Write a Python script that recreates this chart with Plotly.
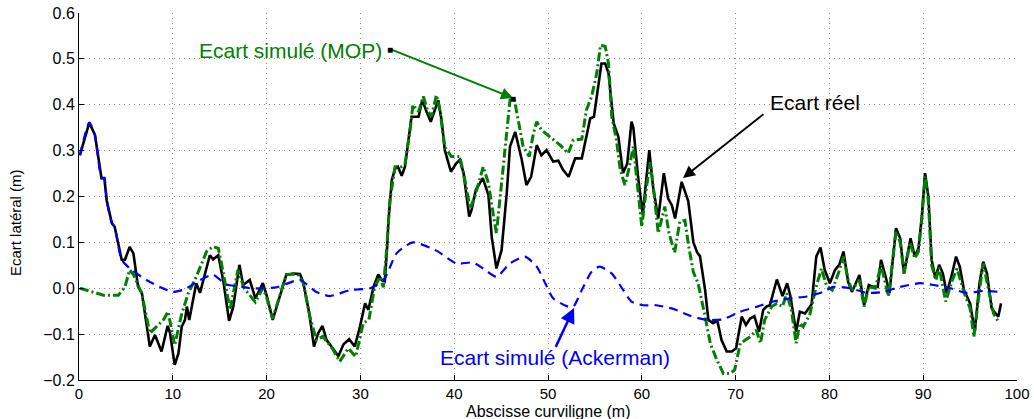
import plotly.graph_objects as go

# Ecart réel (courbe noire)
x_reel = [0.1, 1.1, 1.7, 2.4, 2.7, 2.95, 3.5, 3.8, 4.55, 4.9, 5.4, 5.8, 6.3, 6.7, 7.55, 8.1, 8.8, 9.45, 9.7,
          10.2, 10.6, 10.95, 11.3, 11.5, 11.75, 12.5, 12.9, 13.4, 13.95, 14.3, 14.85, 15.4, 16.0, 16.45, 17.1,
          17.5, 18.2, 18.8, 19.6, 20.0, 20.65, 21.4, 22.1, 22.85, 23.55, 23.9, 24.55, 25.05, 25.5, 25.95, 26.4,
          27.05, 27.65, 28.2, 28.8, 29.4, 29.95, 30.5, 30.85, 31.4, 31.9, 32.3, 32.6, 32.85, 33.0, 33.35, 33.7,
          34.0, 34.4, 34.75, 35.2, 35.45, 36.2, 36.6, 37.05, 37.5, 38.3, 38.65, 39.0, 39.65, 40.2, 40.6, 41.0,
          41.6, 41.85, 42.3, 43.05, 43.65, 44.0, 44.5, 45.05, 45.6, 45.95, 46.5, 47.2, 47.7, 48.2, 48.8, 49.3,
          49.85, 50.55, 51.1, 51.6, 52.2, 52.9, 53.6, 54.5, 54.9, 55.25, 55.7, 56.1, 56.45, 57.0, 57.5, 58.0,
          58.45, 58.9, 59.1, 59.6, 60.1, 60.5, 60.8, 61.2, 61.75, 62.35, 62.8, 63.2, 63.55, 64.25, 64.95, 65.5,
          65.9, 66.2, 66.75, 67.1, 67.6, 68.05, 68.5, 69.05, 69.6, 70.05, 70.65, 71.1, 71.55, 72.0, 72.5, 72.95,
          73.3, 73.65, 74.0, 74.4, 75.0, 75.5, 75.85, 76.45, 76.85, 77.4, 78.1, 78.6, 79.05, 79.5, 80.05, 80.6,
          81.05, 81.5, 82.0, 82.4, 83.2, 83.7, 84.2, 84.7, 85.15, 85.5, 86.0, 86.4, 87.1, 87.55, 87.95, 88.65,
          89.1, 89.5, 89.85, 90.2, 90.55, 90.9, 91.3, 91.7, 92.1, 92.5, 93.05, 93.5, 93.9, 94.35, 95.0, 95.5,
          96.0, 96.4, 96.8, 97.3, 98.0, 98.3]
y_reel = [0.29, 0.361, 0.334, 0.24, 0.24, 0.192, 0.142, 0.134, 0.062, 0.062, 0.09, 0.076, 0.003, -0.01, -0.127,
          -0.102, -0.138, -0.082, -0.097, -0.167, -0.142, -0.084, -0.069, -0.04, -0.069, 0.011, -0.01, 0.032,
          0.072, 0.063, 0.072, 0.014, -0.071, -0.04, 0.051, 0.007, 0.018, -0.022, 0.011, -0.015, -0.069, -0.018,
          0.029, 0.032, 0.031, 0.014, -0.055, -0.127, -0.098, -0.082, -0.113, -0.131, -0.148, -0.122, -0.111,
          -0.127, -0.084, -0.033, -0.047, 0.003, 0.03, 0.017, 0.015, 0.09, 0.15, 0.236, 0.261, 0.265, 0.245,
          0.265, 0.33, 0.374, 0.374, 0.41, 0.385, 0.363, 0.41, 0.367, 0.301, 0.254, 0.272, 0.28, 0.251, 0.156,
          0.171, 0.214, 0.24, 0.203, 0.112, 0.043, 0.083, 0.207, 0.309, 0.341, 0.28, 0.225, 0.243, 0.312, 0.29,
          0.301, 0.276, 0.278, 0.258, 0.243, 0.283, 0.283, 0.37, 0.374, 0.425, 0.49, 0.49, 0.469, 0.36, 0.33,
          0.251, 0.272, 0.363, 0.35, 0.243, 0.16, 0.243, 0.301, 0.221, 0.152, 0.251, 0.196, 0.181, 0.152, 0.232,
          0.19, 0.1, 0.078, 0.07, -0.004, -0.069, -0.076, -0.071, -0.113, -0.138, -0.138, -0.131, -0.062, -0.08,
          -0.066, -0.061, -0.095, -0.047, -0.04, -0.037, -0.008, 0.019, -0.017, 0.011, -0.018, -0.095, -0.051,
          -0.055, -0.035, 0.069, 0.089, 0.04, 0.011, 0.04, 0.051, 0.08, 0.014, -0.008, 0.029, -0.037, 0.007,
          0.003, 0.003, 0.062, 0.025, -0.011, 0.131, 0.109, 0.032, 0.109, 0.069, 0.087, 0.156, 0.251, 0.2, 0.062,
          0.022, 0.051, 0.032, -0.011, 0.029, 0.069, 0.047, -0.004, -0.033, -0.095, 0.011, 0.058, 0.032, -0.044,
          -0.062, -0.033]

# Ecart simulé (MOP) (courbe verte)
x_mop = [0.1, 1.5, 2.6, 4.2, 4.9, 5.4, 5.8, 6.7, 7.55, 8.1, 9.0, 9.5, 10.2, 10.95, 11.65, 12.5, 13.6, 14.3,
         14.85, 15.4, 16.1, 16.95, 17.6, 18.8, 19.6, 20.0, 20.65, 22.1, 23.3, 23.9, 24.6, 25.3, 26.0, 27.0,
         27.8, 28.7, 29.5, 30.3, 30.9, 31.5, 32.05, 32.45, 32.8, 33.15, 33.7, 34.4, 34.75, 35.3, 35.6, 36.2,
         36.7, 37.2, 37.6, 38.1, 38.5, 39.0, 39.7, 40.6, 41.1, 41.7, 42.2, 43.1, 43.65, 44.15, 44.5, 45.05,
         45.6, 45.95, 46.4, 46.8, 47.35, 48.0, 48.45, 48.8, 49.3, 50.2, 51.3, 52.15, 52.7, 53.6, 54.1, 54.65,
         55.2, 55.6, 56.1, 56.45, 56.8, 57.3, 57.7, 58.2, 58.6, 59.1, 59.4, 60.0, 60.5, 60.9, 61.4, 61.75,
         62.45, 62.9, 63.5, 64.05, 64.6, 65.0, 65.5, 66.0, 66.75, 67.3, 68.0, 68.7, 69.4, 69.9, 70.5, 71.0,
         71.6, 72.2, 72.65, 73.1, 73.85, 74.4, 75.0, 75.45, 75.95, 76.45, 76.85, 77.2, 77.9, 78.5, 79.15,
         79.7, 80.3, 80.95, 81.5, 82.0, 82.4, 83.2, 83.7, 84.2, 84.9, 85.5, 86.3, 87.1, 87.55, 87.95, 88.6,
         89.1, 89.5, 89.85, 90.2, 90.55, 90.9, 91.35, 91.7, 92.4, 93.05, 93.6, 94.45, 95.0, 95.4, 96.05, 96.4,
         96.9, 97.5, 98.1]
y_mop = [0.0, -0.008, -0.015, -0.015, 0.003, 0.04, 0.03, -0.012, -0.098, -0.087, -0.069, -0.051, -0.124,
         -0.056, -0.011, 0.025, 0.08, 0.091, 0.087, 0.032, -0.047, 0.04, 0.0, -0.03, 0.0, -0.02, -0.066, 0.03,
         0.031, 0.012, -0.06, -0.113, -0.105, -0.131, -0.16, -0.131, -0.149, -0.076, -0.069, 0.0, 0.025, 0.002,
         0.085, 0.192, 0.265, 0.265, 0.27, 0.345, 0.4, 0.385, 0.418, 0.385, 0.375, 0.421, 0.385, 0.308, 0.287,
         0.287, 0.24, 0.174, 0.2, 0.265, 0.229, 0.163, 0.12, 0.229, 0.345, 0.41, 0.413, 0.367, 0.309, 0.287,
         0.338, 0.363, 0.345, 0.33, 0.312, 0.294, 0.323, 0.325, 0.389, 0.418, 0.469, 0.53, 0.527, 0.49, 0.374,
         0.323, 0.258, 0.225, 0.258, 0.309, 0.25, 0.134, 0.221, 0.275, 0.19, 0.12, 0.178, 0.12, 0.078, 0.145,
         0.148, 0.091, 0.035, 0.011, -0.062, -0.12, -0.156, -0.186, -0.186, -0.178, -0.12, -0.113, -0.105,
         -0.091, -0.12, -0.069, -0.04, -0.033, -0.04, -0.011, -0.047, -0.12, -0.076, -0.084, -0.058, -0.004,
         0.043, 0.005, -0.004, 0.032, 0.069, 0.018, -0.004, 0.018, -0.04, 0.003, 0.0, 0.051, -0.018, 0.124,
         0.1, 0.032, 0.1, 0.065, 0.08, 0.15, 0.244, 0.19, 0.05, 0.018, 0.045, -0.029, 0.015, 0.043, -0.015,
         -0.044, -0.106, 0.003, 0.054, 0.003, -0.055, -0.076]

# Ecart simulé (Ackerman) (courbe bleue)
x_ack = [0.1, 1.1, 1.7, 2.4, 2.7, 2.95, 3.5, 3.8, 4.55, 5.6, 7.2, 8.6, 10.05, 11.3, 12.9, 14.3, 15.75, 17.5,
         18.2, 21.05, 23.55, 25.3, 26.75, 28.9, 31.05, 32.5, 33.85, 35.6, 38.1, 40.25, 42.0, 43.1, 44.5, 45.95,
         47.55, 48.8, 49.7, 50.55, 52.0, 52.7, 53.6, 54.65, 55.5, 56.8, 57.8, 58.9, 60.15, 61.55, 63.35, 65.15,
         66.9, 68.6, 70.5, 72.3, 74.0, 75.8, 77.6, 79.35, 80.4, 82.2, 84.0, 85.75, 87.55, 89.65, 91.1, 92.9,
         94.6, 96.4, 98.2]
y_ack = [0.29, 0.361, 0.334, 0.24, 0.24, 0.192, 0.142, 0.134, 0.062, 0.04, 0.018, 0.003, -0.008, -0.002, 0.018,
         0.029, 0.008, 0.003, 0.0, 0.002, 0.018, -0.008, -0.017, -0.004, 0.0, 0.018, 0.076, 0.1, 0.082, 0.054,
         0.056, 0.043, 0.025, 0.054, 0.069, 0.047, 0.011, -0.022, -0.039, -0.04, -0.004, 0.036, 0.047, 0.032,
         0.003, -0.029, -0.037, -0.037, -0.045, -0.06, -0.069, -0.068, -0.051, -0.04, -0.029, -0.022, -0.018,
         -0.008, 0.003, 0.0, -0.01, -0.008, 0.003, 0.011, 0.007, 0.0, -0.01, -0.006, -0.008]

x_ticks = list(range(0, 101, 10))
y_ticks = [-0.2, -0.1, 0, 0.1, 0.2, 0.3, 0.4, 0.5, 0.6]

GREEN = "#008000"
BLUE = "#0000ff"
FONT = "Liberation Sans, Arial, sans-serif"

fig = go.Figure()
fig.add_trace(go.Scatter(x=x_reel, y=y_reel, mode="lines", name="Ecart réel",
                         line=dict(color="black", width=2.6)))
fig.add_trace(go.Scatter(x=x_mop, y=y_mop, mode="lines", name="Ecart simulé (MOP)",
                         line=dict(color=GREEN, width=3, dash="9px,3px,2px,3px")))
fig.add_trace(go.Scatter(x=x_ack, y=y_ack, mode="lines", name="Ecart simulé (Ackerman)",
                         line=dict(color=BLUE, width=2.2, dash="9px,6px", shape="spline", smoothing=0.6)))

axis_common = dict(
    showgrid=True, gridcolor="#8c8c8c", griddash="1px,4px", gridwidth=1,
    showline=True, linecolor="black", linewidth=1,
    ticks="inside", ticklen=5, tickcolor="black",
    zeroline=False, automargin=False, ticklabeloverflow="allow",
)
fig.update_xaxes(range=[0, 100], tickvals=x_ticks, tickfont=dict(size=15, color="black", family=FONT),
                 **axis_common)
fig.update_yaxes(range=[-0.2, 0.6], tickvals=y_ticks, tickformat=".1f",
                 tickfont=dict(size=16, color="black", family=FONT), **axis_common)

# Titres des axes
fig.add_annotation(xref="paper", yref="paper", x=0.5, y=-0.0845, xanchor="center", yanchor="middle",
                   text="Abscisse curviligne (m)", showarrow=False,
                   font=dict(size=16, family=FONT, color="black"))
fig.add_annotation(xref="paper", yref="paper", x=-0.067, y=0.428, xanchor="center", yanchor="middle",
                   text="Ecart latéral (m)", textangle=-90, showarrow=False,
                   font=dict(size=15, family=FONT, color="black"))

# Annotations: textes et flèches
fig.add_annotation(x=22.5, y=0.519, text="Ecart simulé (MOP)", showarrow=False,
                   font=dict(size=21, color=GREEN, family=FONT))
fig.add_annotation(x=46.27, y=0.4147, ax=33.16, ay=0.5215, axref="x", ayref="y", text="",
                   showarrow=True, arrowhead=2, arrowsize=1.2, arrowwidth=2, arrowcolor=GREEN)
for px, py in [(33.16, 0.5215), (46.27, 0.4147)]:
    fig.add_annotation(x=px, y=py, text="■", showarrow=False, font=dict(size=10, color="black"))

fig.add_annotation(x=78.5, y=0.404, text="Ecart réel", showarrow=False,
                   font=dict(size=21, color="black", family=FONT))
fig.add_annotation(x=64.39, y=0.2403, ax=73.13, ay=0.382, axref="x", ayref="y", text="",
                   showarrow=True, arrowhead=2, arrowsize=1.2, arrowwidth=2, arrowcolor="black")

fig.add_annotation(x=50.75, y=-0.152, text="Ecart simulé (Ackerman)", showarrow=False,
                   font=dict(size=21, color=BLUE, family=FONT))
fig.add_annotation(x=52.77, y=-0.043, ax=50.75, ay=-0.131, axref="x", ayref="y", text="",
                   showarrow=True, arrowhead=2, arrowsize=1.2, arrowwidth=2.5, arrowcolor=BLUE)

fig.update_layout(
    width=1034, height=419,
    margin=dict(l=79, r=17, t=13, b=39),
    plot_bgcolor="white", paper_bgcolor="white",
    showlegend=False,
    font=dict(family=FONT, color="black"),
)

# enlever la marge par défaut de la page pour que le graphique occupe toute la fenêtre
fig.write_html("out.html", config={"displayModeBar": False},
               post_script="document.body.style.margin = '0';")
